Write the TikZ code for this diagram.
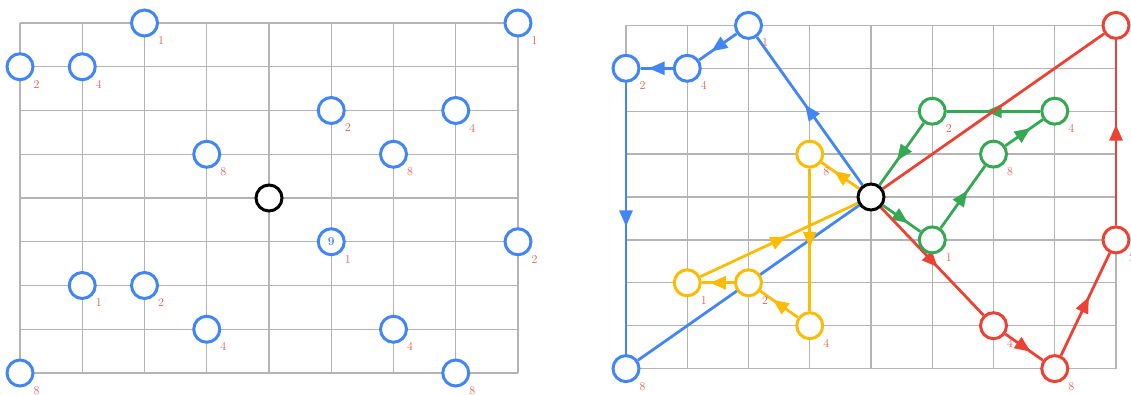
\documentclass[tikz,border=0pt]{standalone}
\usetikzlibrary{arrows.meta, decorations.markings, backgrounds}
\definecolor{gblue}{HTML}{4285F4}
\definecolor{gred}{HTML}{EA4335}
\definecolor{gyellow}{HTML}{FBBC05}
\definecolor{ggreen}{HTML}{34A853}
\definecolor{ggrey}{HTML}{B4B4B4}
\definecolor{lred}{HTML}{E25B52}
\tikzset{
  gridline/.style={draw=ggrey, line width=1.3pt},
  dot/.style={circle, draw=#1, fill=white, line width=3pt, minimum size=26pt, inner sep=0pt},
  dot/.default=gblue,
  origin/.style={dot=black},
  num/.style={text=lred, font=\fontsize{12}{12}\selectfont, inner sep=2pt},
  val/.style={label={[num, label distance=1.5pt]-45:#1}},
  link/.style={draw=#1, line width=2.8pt},
  midarrow/.style={postaction={decorate}, decoration={markings,
    mark=at position 0.5 with {\arrow[xshift=8pt]{Triangle[length=16pt, width=13pt]}}}},
}

\begin{document}
\begin{tikzpicture}
  \useasboundingbox (0,0) rectangle (1131pt,394pt);
  % left: all 16 positions
  \begin{scope}[shift={(269pt,196pt)}, x=62.25pt, y=43.75pt]
    \foreach \k in {-4,...,4} {
      \draw[gridline] (\k,-4) -- (\k,4);
      \draw[gridline] (-4,\k) -- (4,\k);
    }
    \node[origin] (lo) at (0,0) {};
    \node[dot, val=1] (la1) at (-2,4) {};
    \node[dot, val=2] (la2) at (-4,3) {};
    \node[dot, val=4] (la4) at (-3,3) {};
    \node[dot, val=8] (la8) at (-1,1) {};
    \node[dot, val=1] (lb1) at (4,4) {};
    \node[dot, val=2] (lb2) at (1,2) {};
    \node[dot, val=4] (lb4) at (3,2) {};
    \node[dot, val=8] (lb8) at (2,1) {};
    \node[dot, val=1, text=gblue, font=\bfseries\fontsize{12}{12}\selectfont] (lc1) at (1,-1) {9};
    \node[dot, val=2] (lc2) at (4,-1) {};
    \node[dot, val=4] (lc4) at (2,-3) {};
    \node[dot, val=8] (lc8) at (3,-4) {};
    \node[dot, val=1] (ld1) at (-3,-2) {};
    \node[dot, val=2] (ld2) at (-2,-2) {};
    \node[dot, val=4] (ld4) at (-1,-3) {};
    \node[dot, val=8] (ld8) at (-4,-4) {};
  \end{scope}
  % right: four loops through the centre
  \begin{scope}[shift={(871pt,197pt)}, x=61.25pt, y=42.9pt]
    \begin{scope}[on background layer]
      \foreach \k in {-4,...,4} {
        \draw[gridline] (\k,-4) -- (\k,4);
        \draw[gridline] (-4,\k) -- (4,\k);
      }
    \end{scope}
    \node[origin] (o) at (0,0) {};
    \node[dot, val=1] (b1) at (-2,4) {};
    \node[dot, val=2] (b2) at (-4,3) {};
    \node[dot, val=4] (b4) at (-3,3) {};
    \node[dot, val=8] (b8) at (-4,-4) {};
    \node[dot=gyellow, val=1] (y1) at (-3,-2) {};
    \node[dot=gyellow, val=2] (y2) at (-2,-2) {};
    \node[dot=gyellow, val=4] (y4) at (-1,-3) {};
    \node[dot=gyellow, val=8] (y8) at (-1,1) {};
    \node[dot=ggreen, val=1] (g1) at (1,-1) {};
    \node[dot=ggreen, val=2] (g2) at (1,2) {};
    \node[dot=ggreen, val=4] (g4) at (3,2) {};
    \node[dot=ggreen, val=8] (g8) at (2,1) {};
    \node[dot=gred, val=1] (r1) at (4,4) {};
    \node[dot=gred, val=2] (r2) at (4,-1) {};
    \node[dot=gred, val=4] (r4) at (2,-3) {};
    \node[dot=gred, val=8] (r8) at (3,-4) {};
    \begin{scope}[on background layer]
      \draw[link=gblue, midarrow] (o) -- (b1);
      \draw[link=gblue, midarrow] (b1) -- (b4);
      \draw[link=gblue, midarrow] (b4) -- (b2);
      \draw[link=gblue, midarrow] (b2) -- (b8);
      \draw[link=gblue] (b8) -- (o);
      \draw[link=gyellow, midarrow] (o) -- (y8);
      \draw[link=gyellow, midarrow] (y8) -- (y4);
      \draw[link=gyellow, midarrow] (y4) -- (y2);
      \draw[link=gyellow, midarrow] (y2) -- (y1);
      \draw[link=gyellow, midarrow] (y1) -- (o);
      \draw[link=ggreen, midarrow] (o) -- (g1);
      \draw[link=ggreen, midarrow] (g1) -- (g8);
      \draw[link=ggreen, midarrow] (g8) -- (g4);
      \draw[link=ggreen, midarrow] (g4) -- (g2);
      \draw[link=ggreen, midarrow] (g2) -- (o);
      \draw[link=gred, midarrow] (o) -- (r4);
      \draw[link=gred, midarrow] (r4) -- (r8);
      \draw[link=gred, midarrow] (r8) -- (r2);
      \draw[link=gred, midarrow] (r2) -- (r1);
      \draw[link=gred] (r1) -- (o);
    \end{scope}
  \end{scope}
\end{tikzpicture}
\end{document}
